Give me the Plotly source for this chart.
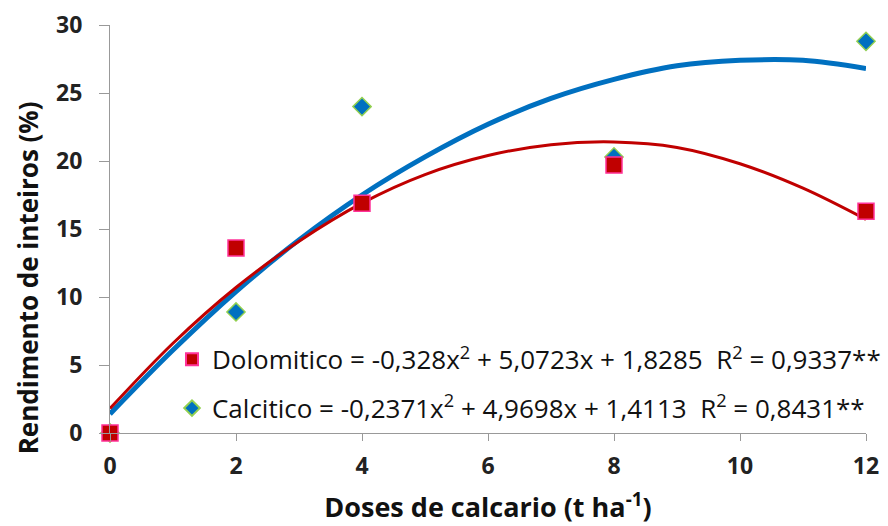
import plotly.graph_objects as go

# Observed data
doses = [0, 2, 4, 8, 12]
dolomitico = [0.0, 13.6, 16.9, 19.7, 16.3]
calcitico = [0.0, 8.9, 24.0, 20.3, 28.8]

# Trend lines
trend_x = [0, 1, 2, 3, 4, 5, 6, 7, 8, 9, 10, 11, 12]
trend_dolo = [1.8, 6.6, 10.7, 14.1, 16.9, 19.0, 20.4, 21.2, 21.4, 21.0, 19.8, 18.0, 15.7]
trend_calc = [1.4, 6.1, 10.4, 14.2, 17.5, 20.3, 22.7, 24.6, 26.0, 27.0, 27.4, 27.4, 26.8]

x_ticks = [0, 2, 4, 6, 8, 10, 12]
y_ticks = [0, 5, 10, 15, 20, 25, 30]

name_dolo = "Dolomitico = -0,328x<sup>2</sup> + 5,0723x + 1,8285  R<sup>2</sup> = 0,9337**"
name_calc = "Calcitico = -0,2371x<sup>2</sup> + 4,9698x + 1,4113  R<sup>2</sup> = 0,8431**"

BLUE = "#0070C0"
RED = "#C00000"
FONT = "Open Sans"

fig = go.Figure()
fig.add_trace(go.Scatter(x=trend_x, y=trend_calc, mode="lines", line=dict(color=BLUE, width=5, shape="spline"),
                         showlegend=False, hoverinfo="skip", cliponaxis=False))
fig.add_trace(go.Scatter(x=trend_x, y=trend_dolo, mode="lines", line=dict(color=RED, width=3, shape="spline"),
                         showlegend=False, hoverinfo="skip", cliponaxis=False))
fig.add_trace(go.Scatter(x=doses, y=calcitico, mode="markers", name=name_calc, legendrank=2, legendgroup="c",
                         cliponaxis=False,
                         marker=dict(symbol="diamond", size=14, color=BLUE, line=dict(color="#92D050", width=1.5))))
fig.add_trace(go.Scatter(x=doses, y=dolomitico, mode="markers", name=name_dolo, legendrank=1, legendgroup="d",
                         cliponaxis=False,
                         marker=dict(symbol="square", size=16, color=RED, line=dict(color="#FF3399", width=1.5))))

fig.update_layout(
    width=888, height=526,
    margin=dict(l=110, r=22, t=25, b=93, autoexpand=False),
    plot_bgcolor="white", paper_bgcolor="white",
    font=dict(family=FONT, color="#222"),
    showlegend=True,
    legend=dict(x=0.082, y=0.238, xanchor="left", yanchor="top", bgcolor="rgba(0,0,0,0)",
                font=dict(size=26, family=FONT, color="#111"), tracegroupgap=12, itemsizing="constant"),
    xaxis=dict(range=[0, 12], tickvals=x_ticks, ticks="outside", ticklen=7, tickcolor="#999",
               showline=True, linecolor="#999", linewidth=1, showgrid=False, zeroline=False,
               ticklabelstandoff=5,
               tickfont=dict(size=23, family=FONT, color="#222", weight="bold"),
               title=dict(text="<b>Doses de calcario (t ha<sup>-1</sup>)</b>", font=dict(size=27, family=FONT, color="#111"),
                          standoff=18)),
    yaxis=dict(range=[0, 30], tickvals=y_ticks, ticks="outside", ticklen=10, tickcolor="#999",
               showline=True, linecolor="#999", linewidth=1, showgrid=False, zeroline=False,
               ticklabelstandoff=12,
               tickfont=dict(size=23, family=FONT, color="#222", weight="bold")),
    annotations=[dict(text="<b>Rendimento de inteiros (%)</b>", xref="paper", yref="paper", x=-0.108, y=0.38,
                      xanchor="center", yanchor="middle", textangle=-90, showarrow=False,
                      font=dict(size=26, family=FONT, color="#111"))],
)

fig.write_html("out.html")
